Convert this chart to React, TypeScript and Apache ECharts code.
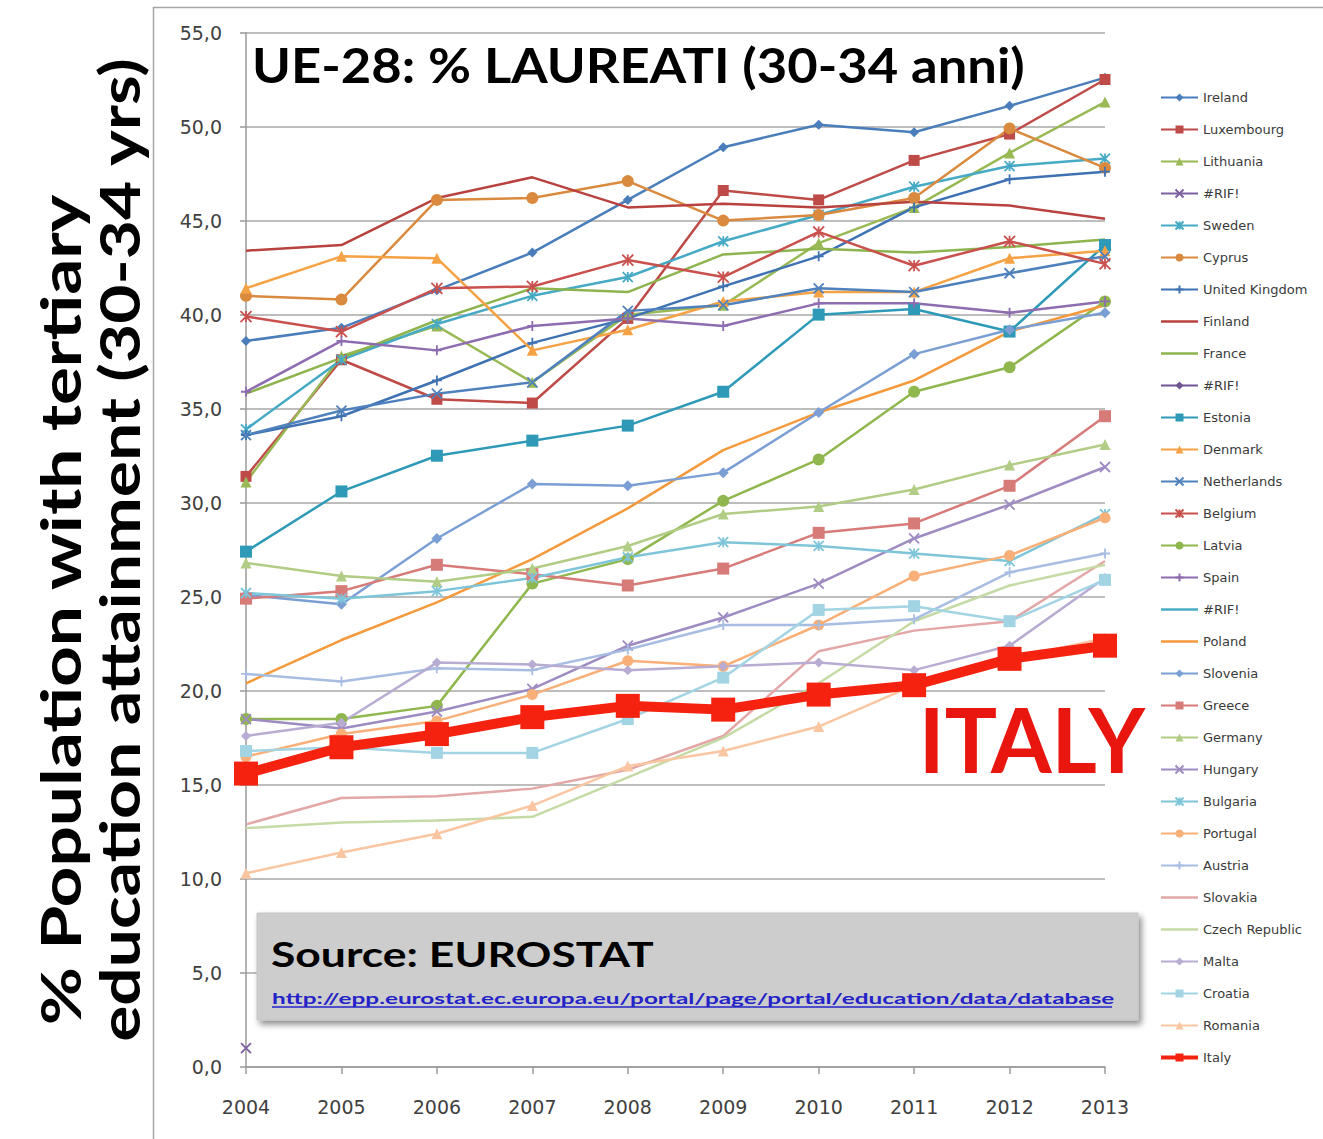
import React, { useEffect, useRef } from "react";
import * as echarts from "echarts";

const years = ["2004", "2005", "2006", "2007", "2008", "2009", "2010", "2011", "2012", "2013"];
const yTicks = [0, 5, 10, 15, 20, 25, 30, 35, 40, 45, 50, 55];

const ireland = [38.6, 39.3, 41.3, 43.3, 46.1, 48.9, 50.1, 49.7, 51.1, 52.6];
const luxembourg = [31.4, 37.6, 35.5, 35.3, 39.8, 46.6, 46.1, 48.2, 49.6, 52.5];
const lithuania = [31.1, 37.8, 39.4, 36.4, 40.0, 40.5, 43.8, 45.7, 48.6, 51.3];
const rif1 = [1.0, null, null, null, null, null, null, null, null, null];
const sweden = [33.9, 37.6, 39.5, 41.0, 42.0, 43.9, 45.3, 46.8, 47.9, 48.3];
const cyprus = [41.0, 40.8, 46.1, 46.2, 47.1, 45.0, 45.3, 46.2, 49.9, 47.8];
const unitedKingdom = [33.6, 34.6, 36.5, 38.5, 39.8, 41.5, 43.1, 45.7, 47.2, 47.6];
const finland = [43.4, 43.7, 46.2, 47.3, 45.7, 45.9, 45.7, 46.0, 45.8, 45.1];
const france = [35.8, 37.7, 39.7, 41.4, 41.2, 43.2, 43.5, 43.3, 43.6, 44.0];
const rif2 = [null, null, null, null, null, null, null, null, null, null];
const estonia = [27.4, 30.6, 32.5, 33.3, 34.1, 35.9, 40.0, 40.3, 39.1, 43.7];
const denmark = [41.4, 43.1, 43.0, 38.1, 39.2, 40.7, 41.2, 41.2, 43.0, 43.4];
const netherlands = [33.6, 34.9, 35.8, 36.4, 40.2, 40.5, 41.4, 41.2, 42.2, 43.1];
const belgium = [39.9, 39.1, 41.4, 41.5, 42.9, 42.0, 44.4, 42.6, 43.9, 42.7];
const latvia = [18.5, 18.5, 19.2, 25.7, 27.0, 30.1, 32.3, 35.9, 37.2, 40.7];
const spain = [35.9, 38.6, 38.1, 39.4, 39.8, 39.4, 40.6, 40.6, 40.1, 40.7];
const rif3 = [null, null, null, null, null, null, null, null, null, null];
const poland = [20.4, 22.7, 24.7, 27.0, 29.7, 32.8, 34.8, 36.5, 39.1, 40.5];
const slovenia = [25.1, 24.6, 28.1, 31.0, 30.9, 31.6, 34.8, 37.9, 39.2, 40.1];
const greece = [24.9, 25.3, 26.7, 26.2, 25.6, 26.5, 28.4, 28.9, 30.9, 34.6];
const germany = [26.8, 26.1, 25.8, 26.5, 27.7, 29.4, 29.8, 30.7, 32.0, 33.1];
const hungary = [18.5, 18.0, 18.9, 20.1, 22.4, 23.9, 25.7, 28.1, 29.9, 31.9];
const bulgaria = [25.2, 24.9, 25.3, 26.0, 27.1, 27.9, 27.7, 27.3, 26.9, 29.4];
const portugal = [16.5, 17.7, 18.4, 19.8, 21.6, 21.3, 23.5, 26.1, 27.2, 29.2];
const austria = [20.9, 20.5, 21.2, 21.1, 22.2, 23.5, 23.5, 23.8, 26.3, 27.3];
const slovakia = [12.9, 14.3, 14.4, 14.8, 15.8, 17.6, 22.1, 23.2, 23.7, 26.9];
const czechRepublic = [12.7, 13.0, 13.1, 13.3, 15.4, 17.5, 20.4, 23.7, 25.6, 26.7];
const malta = [17.6, 18.3, 21.5, 21.4, 21.1, 21.3, 21.5, 21.1, 22.4, 26.0];
const croatia = [16.8, 17.0, 16.7, 16.7, 18.5, 20.7, 24.3, 24.5, 23.7, 25.9];
const romania = [10.3, 11.4, 12.4, 13.9, 16.0, 16.8, 18.1, 20.3, 21.7, 22.8];
const italy = [15.6, 17.0, 17.7, 18.6, 19.2, 19.0, 19.8, 20.3, 21.7, 22.4];

const SYM_X = "path://M0,0L10,10M0,10L10,0";
const SYM_STAR = "path://M0,0L10,10M0,10L10,0M5,0L5,10";
const SYM_PLUS = "path://M5,0L5,10M0,5L10,5";
const LEGEND_LINE = "path://M0,0L37,0L37,2.5L0,2.5Z";

type Spec = { name: string; data: (number | null)[]; color: string; symbol: string; size: number; stroke?: boolean };

const specs: Spec[] = [
  { name: "Ireland", data: ireland, color: "#4A7EBB", symbol: "diamond", size: 10 },
  { name: "Luxembourg", data: luxembourg, color: "#BE4B48", symbol: "rect", size: 11 },
  { name: "Lithuania", data: lithuania, color: "#98B954", symbol: "triangle", size: 11 },
  { name: "#RIF!", data: rif1, color: "#7D60A0", symbol: SYM_X, size: 10, stroke: true },
  { name: "Sweden", data: sweden, color: "#46AAC5", symbol: SYM_STAR, size: 10, stroke: true },
  { name: "Cyprus", data: cyprus, color: "#DA8A3E", symbol: "circle", size: 12 },
  { name: "United Kingdom", data: unitedKingdom, color: "#3F72B2", symbol: SYM_PLUS, size: 10, stroke: true },
  { name: "Finland", data: finland, color: "#B8423F", symbol: "none", size: 0 },
  { name: "France", data: france, color: "#8DB44F", symbol: "none", size: 0 },
  { name: "#RIF! ", data: rif2, color: "#6F5592", symbol: "diamond", size: 10 },
  { name: "Estonia", data: estonia, color: "#2E9AB8", symbol: "rect", size: 12 },
  { name: "Denmark", data: denmark, color: "#F5A245", symbol: "triangle", size: 11 },
  { name: "Netherlands", data: netherlands, color: "#4F81BD", symbol: SYM_X, size: 10, stroke: true },
  { name: "Belgium", data: belgium, color: "#C9504D", symbol: SYM_STAR, size: 11, stroke: true },
  { name: "Latvia", data: latvia, color: "#8FB74E", symbol: "circle", size: 12 },
  { name: "Spain", data: spain, color: "#8E6CB0", symbol: SYM_PLUS, size: 10, stroke: true },
  { name: "#RIF!  ", data: rif3, color: "#4BACC6", symbol: "none", size: 0 },
  { name: "Poland", data: poland, color: "#F59A3C", symbol: "none", size: 0 },
  { name: "Slovenia", data: slovenia, color: "#7B9FD4", symbol: "diamond", size: 11 },
  { name: "Greece", data: greece, color: "#D77B79", symbol: "rect", size: 12 },
  { name: "Germany", data: germany, color: "#B1CC84", symbol: "triangle", size: 11 },
  { name: "Hungary", data: hungary, color: "#9E8BC2", symbol: SYM_X, size: 10, stroke: true },
  { name: "Bulgaria", data: bulgaria, color: "#7EC5D9", symbol: SYM_STAR, size: 10, stroke: true },
  { name: "Portugal", data: portugal, color: "#F8AF78", symbol: "circle", size: 11 },
  { name: "Austria", data: austria, color: "#A7BDE2", symbol: SYM_PLUS, size: 10, stroke: true },
  { name: "Slovakia", data: slovakia, color: "#E2A7A6", symbol: "none", size: 0 },
  { name: "Czech Republic", data: czechRepublic, color: "#C6DAA6", symbol: "none", size: 0 },
  { name: "Malta", data: malta, color: "#B8ACD2", symbol: "diamond", size: 10 },
  { name: "Croatia", data: croatia, color: "#A3D4E4", symbol: "rect", size: 12 },
  { name: "Romania", data: romania, color: "#FAC6A2", symbol: "triangle", size: 11 },
  { name: "Italy", data: italy, color: "#F4220F", symbol: "rect", size: 24 },
];

const TITLE = "UE-28: % LAUREATI (30-34 anni)";
const YTITLE_1 = "% Population with tertiary";
const YTITLE_2 = "education attainment (30-34 yrs)";
const SOURCE = "Source: EUROSTAT";
const LINK = "http://epp.eurostat.ec.europa.eu/portal/page/portal/education/data/database";
const ITALY_LABEL = "ITALY";

export default function App() {
  const ref = useRef<HTMLDivElement>(null);
  useEffect(() => {
    document.body.style.margin = "0";
    const chart = echarts.init(ref.current!, undefined, { renderer: "svg" });
    const series = specs.map((s) => {
      const isItaly = s.name === "Italy";
      return {
        type: "line",
        name: s.name,
        data: s.data,
        symbol: s.symbol,
        symbolSize: s.size,
        showSymbol: s.symbol !== "none",
        connectNulls: false,
        lineStyle: { color: s.color, width: isItaly ? 10 : 2.5 },
        itemStyle: s.stroke
          ? { color: s.color, borderColor: s.color, borderWidth: 1.8 }
          : { color: s.color, borderWidth: 0 },
        emphasis: { disabled: true },
        z: isItaly ? 5 : 2,
      };
    });
    const legendData = specs.map((s) => {
      if (s.name === "Italy") return { name: s.name, lineStyle: { width: 4 } };
      if (s.symbol === "none") return { name: s.name, icon: LEGEND_LINE };
      return { name: s.name };
    });
    const font = "Lato, 'Open Sans', sans-serif";
    chart.setOption({
      animation: false,
      backgroundColor: "#ffffff",
      grid: { left: 246, right: 218, top: 32.5, bottom: 72, containLabel: false },
      xAxis: {
        type: "category",
        data: years,
        boundaryGap: false,
        axisLine: { lineStyle: { color: "#9a9a9a", width: 1.5 } },
        axisTick: { show: true, alignWithLabel: true, length: 7, lineStyle: { color: "#9a9a9a", width: 1.5 } },
        axisLabel: { color: "#404040", fontFamily: "'DejaVu Sans', sans-serif", fontSize: 19, margin: 30 },
        splitLine: { show: false },
      },
      yAxis: {
        type: "value",
        min: yTicks[0],
        max: yTicks[yTicks.length - 1],
        interval: 5,
        axisLine: { show: true, lineStyle: { color: "#9a9a9a", width: 1.5 } },
        axisTick: { show: true, length: 6, lineStyle: { color: "#9a9a9a", width: 1.5 } },
        axisLabel: {
          color: "#404040",
          fontFamily: "'DejaVu Sans', sans-serif",
          fontSize: 19,
          margin: 24,
          formatter: (v: number) => v.toFixed(1).replace(".", ","),
        },
        splitLine: { show: true, lineStyle: { color: "#bdbdbd", width: 2 } },
      },
      legend: {
        orient: "vertical",
        left: 1159,
        top: 91,
        width: 160,
        padding: 0,
        itemWidth: 37,
        itemHeight: 10,
        itemGap: 19,
        selectedMode: false,
        data: legendData,
        textStyle: { color: "#3a3a3a", fontFamily: "'DejaVu Sans', sans-serif", fontSize: 13, lineHeight: 10 },
      },
      series,
      graphic: [
        {
          type: "rect",
          silent: true,
          shape: { x: 153.5, y: 7.5, width: 1400, height: 1400 },
          style: { fill: "none", stroke: "#a6a6a6", lineWidth: 1.5 },
          z: 0,
        },
        {
          type: "text",
          silent: true,
          x: 252,
          y: 65,
          scaleX: 1.118,
          style: { text: TITLE, fill: "#000000", font: `bold 47px ${font}`, textVerticalAlign: "middle" },
          z: 50,
        },
        {
          type: "text",
          silent: true,
          x: 60,
          y: 610,
          rotation: Math.PI / 2,
          scaleX: 1.27,
          style: { text: YTITLE_1, fill: "#000000", font: `bold 56px ${font}`, textAlign: "center", textVerticalAlign: "middle" },
          z: 50,
        },
        {
          type: "text",
          silent: true,
          x: 118,
          y: 550,
          rotation: Math.PI / 2,
          scaleX: 1.21,
          style: { text: YTITLE_2, fill: "#000000", font: `bold 56px ${font}`, textAlign: "center", textVerticalAlign: "middle" },
          z: 50,
        },
        {
          type: "rect",
          silent: true,
          shape: { x: 257, y: 913, width: 881, height: 107 },
          style: {
            fill: "#cdcdcd",
            stroke: "#c4c4c4",
            lineWidth: 1,
            shadowBlur: 6,
            shadowOffsetX: 3,
            shadowOffsetY: 4,
            shadowColor: "rgba(0,0,0,0.45)",
          },
          z: 60,
        },
        {
          type: "text",
          silent: true,
          x: 271,
          y: 954,
          scaleX: 1.27,
          style: { text: SOURCE, fill: "#000000", font: `bold 35px ${font}`, textVerticalAlign: "middle" },
          z: 61,
        },
        {
          type: "text",
          silent: true,
          x: 272,
          y: 998,
          scaleX: 1.52,
          style: { text: LINK, fill: "#2323c8", font: `bold 16px ${font}`, textVerticalAlign: "middle" },
          z: 61,
        },
        {
          type: "line",
          silent: true,
          shape: { x1: 272, y1: 1007, x2: 1112, y2: 1007 },
          style: { stroke: "#2323c8", lineWidth: 1.3 },
          z: 61,
        },
        {
          type: "text",
          silent: true,
          x: 1032,
          y: 738,
          scaleX: 0.97,
          style: { text: ITALY_LABEL, fill: "#E8160F", font: `bold 90px ${font}`, textAlign: "center", textVerticalAlign: "middle" },
          z: 50,
        },
      ],
    });
    return () => chart.dispose();
  }, []);
  return <div ref={ref} style={{ width: 1323, height: 1139 }} />;
}
